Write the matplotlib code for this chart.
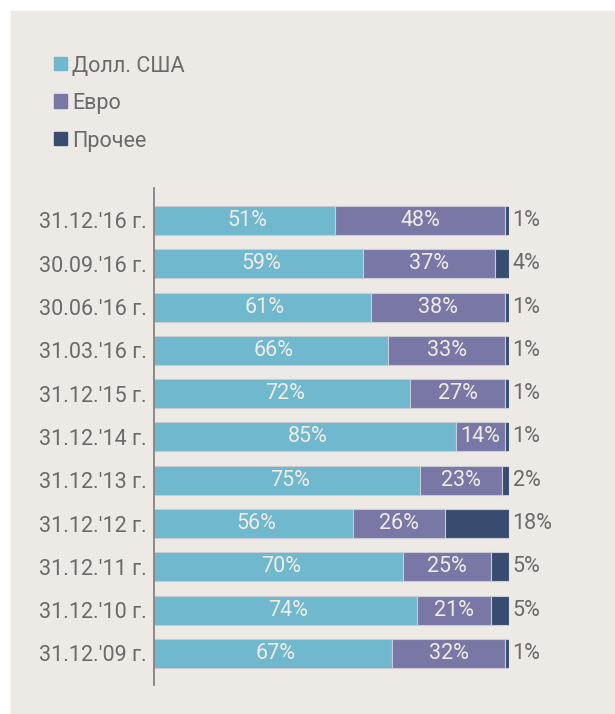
import matplotlib.pyplot as plt
from matplotlib.patches import Rectangle

# data, top bar first
dates = ["31.12.'16 г.", "30.09.'16 г.", "30.06.'16 г.", "31.03.'16 г.",
         "31.12.'15 г.", "31.12.'14 г.", "31.12.'13 г.", "31.12.'12 г.",
         "31.12.'11 г.", "31.12.'10 г.", "31.12.'09 г."]
usd = [51, 59, 61, 66, 72, 85, 75, 56, 70, 74, 67]
eur = [48, 37, 38, 33, 27, 14, 23, 26, 25, 21, 32]
other = [1, 4, 1, 1, 1, 1, 2, 18, 5, 5, 1]
series_names = ["Долл. США", "Евро", "Прочее"]

colors = ["#6fb8cd", "#7877a6", "#374c6e"]
bg = "#ede9e5"
grey = "#6a6a6a"
light = "#f0ece4"

plt.rcParams['font.family'] = ['Roboto', 'DejaVu Sans']

W, H = 615, 714
fig = plt.figure(figsize=(W / 100, H / 100), dpi=100)
fig.patch.set_facecolor("white")
fig.patches.append(Rectangle((11 / W, 0), 1 - 11 / W, 1 - 11 / H,
                             transform=fig.transFigure, color=bg, zorder=-10))

# axes: x 154..509 px, y 188..685 px
ax = fig.add_axes([154 / W, 1 - 685 / H, (509 - 154) / W, (685 - 188) / H])
ax.set_facecolor("none")

y = list(range(len(dates)))
left = [0] * len(dates)
for vals, c in zip([usd, eur, other], colors):
    ax.barh(y, vals, left=left, height=0.67, color=c, edgecolor="#c9ccd6",
            linewidth=0.8)
    left = [l + v for l, v in zip(left, vals)]

# in-bar labels for usd and eur, outside labels for the rest
for i in y:
    ax.text(usd[i] / 2 + 0.8, i, f"{usd[i]}%", ha="center", va="center",
            color=light, fontsize=15.5)
    ax.text(usd[i] + eur[i] / 2, i, f"{eur[i]}%", ha="center", va="center",
            color=light, fontsize=15.5)
    ax.text(101.0, i, f"{other[i]}%", ha="left", va="center", color=grey,
            fontsize=15.5)

ax.set_xlim(0, 100)
ax.set_ylim(10.73, -0.75)
ax.set_yticks(y)
ax.set_yticklabels(dates, fontsize=15.5, color=grey)
ax.tick_params(axis="y", length=0, pad=5)
ax.set_xticks([])
for s in ["top", "right", "bottom"]:
    ax.spines[s].set_visible(False)
ax.spines["left"].set_color("#7a7a7a")
ax.spines["left"].set_linewidth(1.2)

# legend drawn by hand in figure pixels
for k, (name, c) in enumerate(zip(series_names, colors)):
    yc = 63.5 + k * 37.5
    fig.patches.append(Rectangle((54 / W, 1 - (yc + 6.5) / H), 13 / W, 13 / H,
                                 transform=fig.transFigure, color=c))
    fig.text(72 / W, 1 - yc / H, name, ha="left", va="center_baseline",
             color=grey, fontsize=15.5)

fig.savefig("out.png", dpi=100, facecolor=fig.get_facecolor())
